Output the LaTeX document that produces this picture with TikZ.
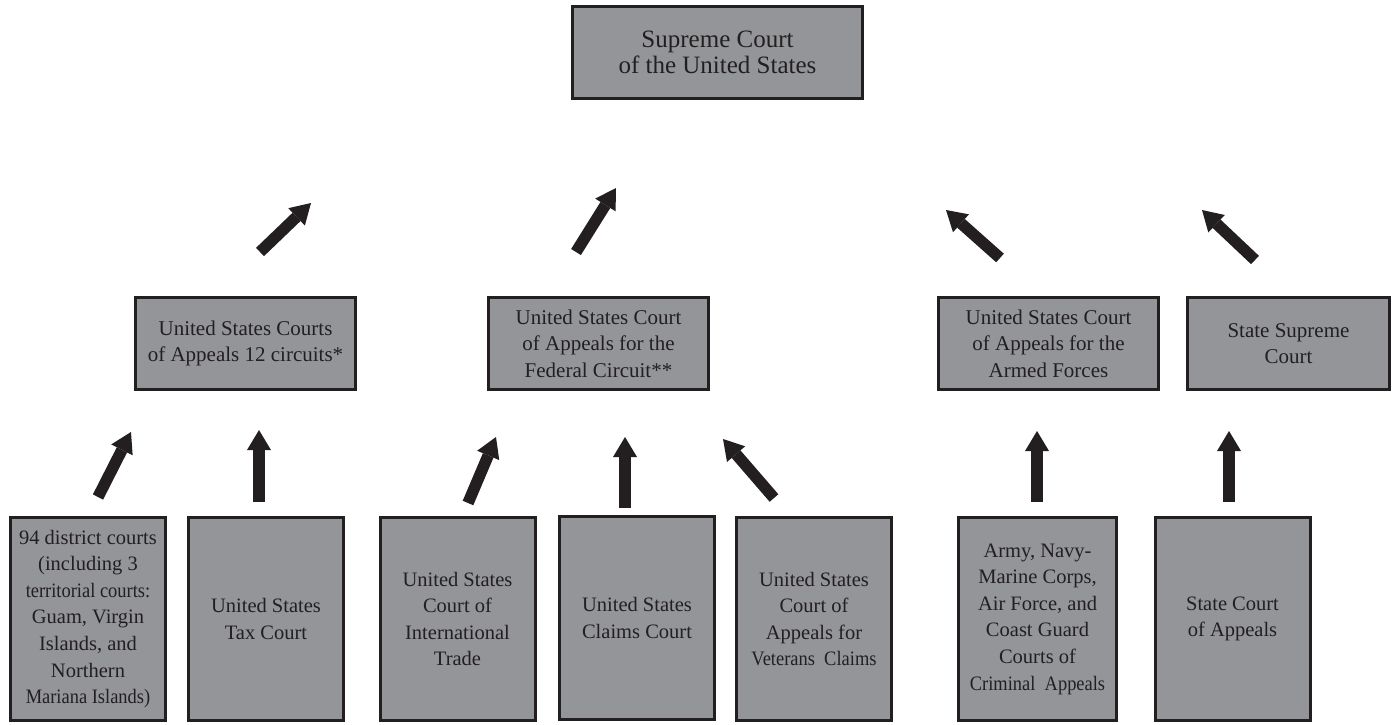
\documentclass[tikz,border=0pt]{standalone}
\usepackage{fontspec}
\setmainfont{Liberation Serif}
\usetikzlibrary{arrows.meta}
\definecolor{boxgray}{HTML}{939598}
\definecolor{ink}{HTML}{231F20}
\newcommand{\narrowline}[1]{\scalebox{0.9}[1]{#1}}
\tikzset{
  court/.style={draw=ink, fill=boxgray, line width=3pt, text=ink, align=center, inner sep=2pt},
  topcourt/.style={court, minimum width=290pt, minimum height=92pt, font=\fontsize{25}{26.5}\selectfont},
  midcourt/.style={court, minimum width=220pt, minimum height=92pt, font=\fontsize{21}{26.5}\selectfont},
  lowcourt/.style={court, minimum width=155pt, minimum height=203pt, font=\fontsize{20.5}{26.6}\selectfont},
  blockarrow/.style={draw=ink, line width=11.5pt, -{Triangle[width=24pt 0 0, length=20pt 0 0, line width=0pt]}}
}
\begin{document}
\begin{tikzpicture}[x=1pt,y=-1pt]
\useasboundingbox (0,0) rectangle (1392,724);
% top
\node[topcourt] (sc) at (717.5,52.5) {Supreme Court\\ of the United States};
% middle row
\node[midcourt] (ca) at (245.5,343.5) {United States Courts\\of Appeals 12 circuits*};
\node[midcourt] (cafc) at (598.5,343.5) {United States Court\\of Appeals for the\\Federal Circuit**};
\node[midcourt] (caaf) at (1048.5,343.5) {United States Court\\of Appeals for the\\Armed Forces};
\node[midcourt, minimum width=202pt] (ssc) at (1288.5,343.5) {State Supreme\\Court};
% bottom row
\node[lowcourt] (dc) at (88,619) {94 district courts\\(including 3\\\narrowline{territorial courts:}\\Guam, Virgin\\Islands, and\\Northern\\\narrowline{Mariana Islands)}};
\node[lowcourt] (tc) at (266,619) {United States\\Tax Court};
\node[lowcourt] (cit) at (457.5,619) {United States\\Court of\\International\\Trade};
\node[lowcourt] (cc) at (637,618) {United States\\Claims Court};
\node[lowcourt] (cavc) at (814,619) {United States\\Court of\\Appeals for\\\narrowline{Veterans\ \ Claims}};
\node[lowcourt, minimum width=158pt] (cca) at (1037.5,619) {Army, Navy-\\Marine Corps,\\Air Force, and\\Coast Guard\\Courts of\\\narrowline{Criminal\ \ Appeals}};
\node[lowcourt] (sca) at (1232.5,619) {State Court\\of Appeals};
% arrow end points
\coordinate (a1s) at (260,252);  \coordinate (a1e) at (311,203);
\coordinate (a2s) at (576,252);  \coordinate (a2e) at (616,188);
\coordinate (a3s) at (1000,258); \coordinate (a3e) at (946,210);
\coordinate (a4s) at (1255,260); \coordinate (a4e) at (1202,210);
\coordinate (a5s) at (98,497);   \coordinate (a5e) at (131,432);
\coordinate (a6s) at (259,502);  \coordinate (a6e) at (259,430);
\coordinate (a7s) at (468,503);  \coordinate (a7e) at (496,437);
\coordinate (a8s) at (625,508);  \coordinate (a8e) at (625,437);
\coordinate (a9s) at (774,498);  \coordinate (a9e) at (723,439);
\coordinate (a10s) at (1037,502); \coordinate (a10e) at (1037,431);
\coordinate (a11s) at (1229,502); \coordinate (a11e) at (1229,431);
\foreach \i in {1,...,11} {\draw[blockarrow] (a\i s) -- (a\i e);}
\end{tikzpicture}
\end{document}
